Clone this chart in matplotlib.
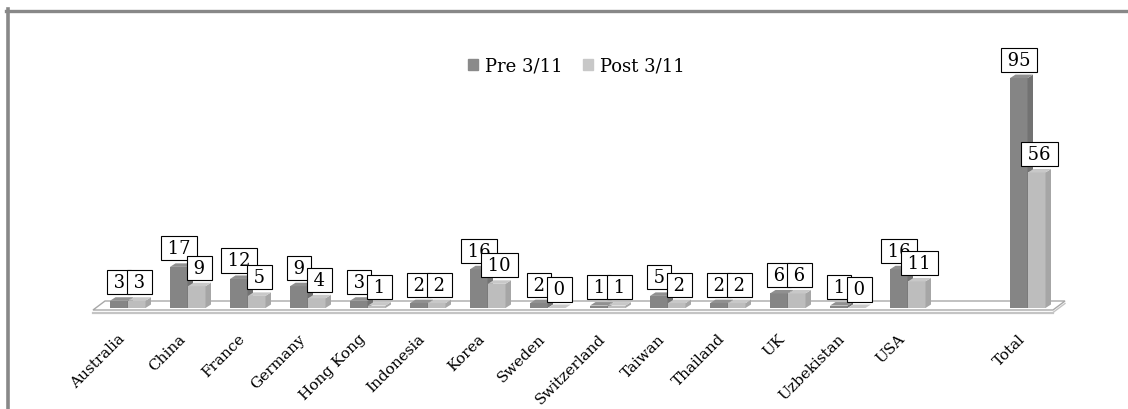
import matplotlib.pyplot as plt
import numpy as np
from matplotlib.patches import Polygon, Patch
from matplotlib.lines import Line2D

# categories and counts (slot 14 is left empty before the total)
countries = ['Australia', 'China', 'France', 'Germany', 'Hong Kong', 'Indonesia',
             'Korea', 'Sweden', 'Switzerland', 'Taiwan', 'Thailand', 'UK',
             'Uzbekistan', 'USA', 'Total']
slots = [0, 1, 2, 3, 4, 5, 6, 7, 8, 9, 10, 11, 12, 13, 15]
pre_311 = [3, 17, 12, 9, 3, 2, 16, 2, 1, 5, 2, 6, 1, 16, 95]
post_311 = [3, 9, 5, 4, 1, 2, 10, 0, 1, 2, 2, 6, 0, 11, 56]

W, H = 1128, 410
fig = plt.figure(figsize=(W / 100, H / 100), dpi=100)
ax = fig.add_axes([0, 0, 1, 1])

# pixel geometry of the plot: group pitch, zero line, value scale
x0_px, pitch = 128, 60
y0_px, scale = 309, 2.42
ax.set_xlim(-x0_px / pitch, (W - x0_px) / pitch)
ax.set_ylim(-(H - y0_px) / scale, y0_px / scale)
ax.axis('off')

def px_x(p):
    return p / pitch

def px_y(p):
    return p / scale

bw = px_x(17.5)
ddx, ddy = px_x(5.5), px_y(3.5)

pre_cols = ('#858585', '#727272', '#909090')
post_cols = ('#bdbdbd', '#a6a6a6', '#c8c8c8')

# floor
fdx, fdy = px_x(12), px_y(9)
fl, fr = -px_x(35), slots[-1] + px_x(25)
fy = -px_y(2)
floor = Polygon([(fl, fy), (fr, fy), (fr + fdx, fy + fdy), (fl + fdx, fy + fdy)],
                closed=True, facecolor='white', edgecolor='#a8a8a8', lw=1.0, zorder=1)
ax.add_patch(floor)
ax.plot([fl, fr], [fy - px_y(2.5)] * 2, color='#c4c4c4', lw=1.6, zorder=1)
ax.plot([fr, fr + fdx], [fy - px_y(2.5), fy + fdy - px_y(2.5)], color='#c4c4c4', lw=1.0, zorder=1)

def bar3d(x, v, cols, z):
    b = ax.bar(x, v, width=bw, align='edge', color=cols[0], lw=0, zorder=z)[0]
    left, right, top = b.get_x(), b.get_x() + b.get_width(), b.get_height()
    ax.add_patch(Polygon([(right, 0), (right + ddx, ddy), (right + ddx, top + ddy), (right, top)],
                         closed=True, facecolor=cols[1], lw=0, zorder=z))
    ax.add_patch(Polygon([(left, top), (right, top), (right + ddx, top + ddy), (left + ddx, top + ddy)],
                         closed=True, facecolor=cols[2], lw=0, zorder=z))
    return (left + right + ddx) / 2, top + ddy

label_style = dict(ha='center', va='bottom', fontsize=13, family='DejaVu Serif',
                   bbox=dict(boxstyle='square,pad=0.17', fc='white', ec='black', lw=0.8))

for i, (s, a, b) in enumerate(zip(slots, pre_311, post_311)):
    cx1, ty1 = bar3d(s - px_x(18), a, pre_cols, 3 + 2 * i)
    cx2, ty2 = bar3d(s, b, post_cols, 4 + 2 * i)
    ax.text(cx1 - px_x(2.5), ty1 + px_y(6), f'\u2009{a}\u2009', zorder=50 + 2 * i, **label_style)
    ax.text(cx2, ty2 + px_y(6), f'\u2009{b}\u2009', zorder=51 + 2 * i, **label_style)
    ax.text(s - px_x(5), -px_y(28), countries[i], rotation=45, rotation_mode='anchor',
            ha='right', va='center', fontsize=11, family='DejaVu Serif', zorder=5)

handles = [Patch(color='#8a8a8a', label='Pre 3/11'), Patch(color='#c8c8c8', label='Post 3/11')]
fig.legend(handles=handles, loc='center', bbox_to_anchor=(0.511, 0.837), ncol=2,
           frameon=False, prop={'family': 'DejaVu Serif', 'size': 13},
           handlelength=0.55, handleheight=0.55, handletextpad=0.4, columnspacing=1.1)

# outer frame, open on the right and bottom
fig.add_artist(Line2D([6 / W, 1], [1 - 11.5 / H] * 2, color='#888888', lw=2.4))
fig.add_artist(Line2D([8 / W] * 2, [0, 1 - 10 / H], color='#888888', lw=2.6))

fig.savefig('out.png', dpi=100)
